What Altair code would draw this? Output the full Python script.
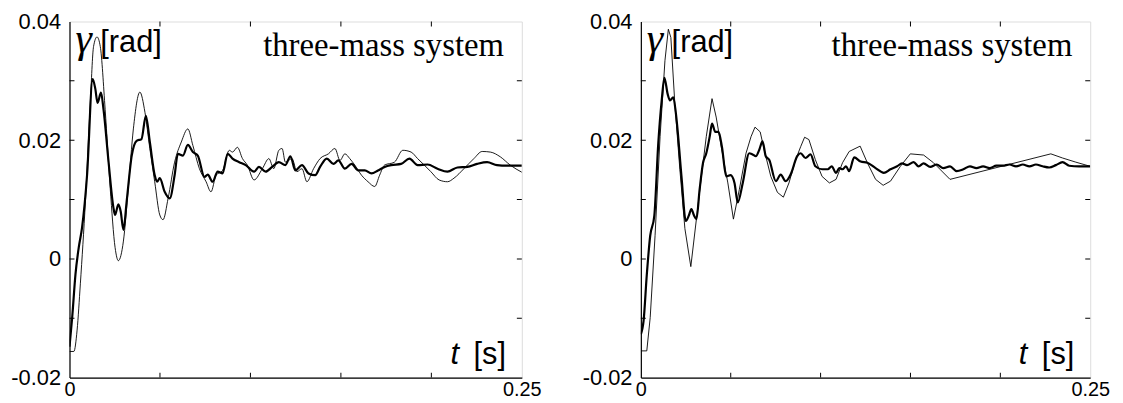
import altair as alt
import pandas as pd

# ---------------- data ----------------
left_thin_t = [0, 0.0024, 0.0042, 0.006, 0.0088, 0.0115, 0.0133, 0.0152, 0.017, 0.0197,
               0.0225, 0.0252, 0.027, 0.0298, 0.0325, 0.0353, 0.0389, 0.0417, 0.0444, 0.0471,
               0.0499, 0.0517, 0.0545, 0.0581, 0.0618, 0.0654, 0.0682, 0.0718, 0.0755, 0.0782,
               0.081, 0.0846, 0.0883, 0.0901, 0.0928, 0.0956, 0.0983, 0.102,
               0.1066, 0.1102, 0.1129, 0.1157, 0.1175, 0.1193, 0.123, 0.1257, 0.1285, 0.1312,
               0.1349, 0.1385, 0.1431, 0.1467, 0.1495, 0.1522, 0.1549, 0.1577, 0.1614, 0.165,
               0.1687, 0.1714, 0.1741, 0.1796, 0.1842, 0.1888, 0.1924, 0.1961, 0.1997, 0.2043,
               0.2089, 0.2125, 0.218, 0.2235, 0.2281, 0.2326, 0.2381, 0.2436, 0.25]
left_thin_v = [-0.0156, -0.0156, -0.012, -0.0042, 0.0097, 0.0263, 0.0358, 0.0374, 0.0358, 0.0252,
               0.0119, 0.0019, -0.0003, 0.003, 0.0119, 0.0219, 0.0281, 0.0247, 0.0186, 0.013,
               0.0074, 0.0066, 0.0102, 0.0163, 0.0197, 0.0219, 0.0191, 0.0152, 0.013, 0.0113,
               0.0141, 0.0149, 0.0183, 0.018, 0.0188, 0.0169, 0.0158, 0.0133,
               0.0152, 0.0169, 0.0152, 0.0183, 0.0186, 0.0163, 0.0169, 0.0147, 0.0152, 0.013,
               0.0152, 0.0169, 0.0177, 0.0186, 0.0166, 0.0177, 0.0169, 0.0158, 0.0141, 0.013,
               0.0122, 0.0141, 0.0158, 0.0163, 0.0183, 0.018, 0.0169, 0.0158, 0.0147, 0.0133,
               0.013, 0.0136, 0.0152, 0.0169, 0.0181, 0.018, 0.0172, 0.0158, 0.0146]

left_thick_t = [0, 0.0015, 0.0033, 0.0051, 0.0069, 0.0097, 0.0128, 0.0143, 0.0155, 0.0174,
                0.0188, 0.0216, 0.0243, 0.0252, 0.027, 0.0283, 0.0298, 0.0316, 0.0344, 0.0371,
                0.0398, 0.0422, 0.0444, 0.0471, 0.0484, 0.0499, 0.0526, 0.0554, 0.0581, 0.0599,
                0.0627, 0.0654, 0.0682, 0.0709, 0.0746, 0.0764, 0.0791, 0.0819, 0.0846, 0.0874,
                0.0901, 0.0938, 0.0974, 0.102,
                0.1047, 0.1084, 0.112, 0.1157, 0.1193, 0.1221, 0.1248, 0.1285, 0.1321, 0.1358,
                0.1385, 0.1422, 0.1459, 0.1486, 0.1522, 0.1559, 0.1596, 0.1632, 0.1669, 0.1705,
                0.1742, 0.1778, 0.1833, 0.1879, 0.1924, 0.1979, 0.2034, 0.2089, 0.2144, 0.2199,
                0.2253, 0.2308, 0.2363, 0.2418, 0.25]
left_thick_v = [-0.0148, -0.0098, -0.0026, 0.0019, 0.0052, 0.0141, 0.0303, 0.0286, 0.0263, 0.028,
                0.0252, 0.0163, 0.0086, 0.0074, 0.0092, 0.008, 0.0049, 0.0097, 0.0174, 0.0199,
                0.0202, 0.0241, 0.0197, 0.0141, 0.013, 0.0136, 0.0113, 0.0102, 0.0141, 0.0177,
                0.0174, 0.0192, 0.018, 0.0174, 0.0138, 0.0142, 0.013, 0.0147, 0.0144, 0.0177,
                0.0169, 0.0163, 0.0158, 0.0147,
                0.0155, 0.0147, 0.0155, 0.0163, 0.0158, 0.0173, 0.0149, 0.0158, 0.0144, 0.0141,
                0.0155, 0.0169, 0.016, 0.0166, 0.0152, 0.016, 0.0149, 0.0149, 0.0144, 0.0149,
                0.0155, 0.0158, 0.016, 0.0169, 0.0158, 0.0159, 0.0152, 0.0147, 0.0154, 0.0155,
                0.016, 0.0163, 0.0158, 0.0157, 0.0157]

right_thin_t = [0, 0.0033, 0.0052, 0.0079, 0.0107, 0.0134, 0.0153, 0.0167, 0.0189, 0.0217,
                0.0245, 0.0278, 0.0309, 0.0337, 0.0364, 0.0396, 0.0419, 0.0447, 0.0484, 0.0515,
                0.0548, 0.0585, 0.0613, 0.0635, 0.0664, 0.0686, 0.0723, 0.076, 0.0793, 0.0824,
                0.0861, 0.0889, 0.0911, 0.0935, 0.0971, 0.1008,
                0.1049, 0.1086, 0.1122, 0.1159, 0.122, 0.126, 0.1306, 0.1348, 0.1389, 0.1444,
                0.1499, 0.1573, 0.1628, 0.1674, 0.172, 0.2281, 0.2346, 0.242, 0.25]
right_thin_v = [-0.0155, -0.0155, -0.0099, 0.0039, 0.0206, 0.0334, 0.0387, 0.0373, 0.0262, 0.0151,
                0.0051, -0.0013, 0.0067, 0.0139, 0.0206, 0.027, 0.0239, 0.0189, 0.0128, 0.0067,
                0.0117, 0.0178, 0.0206, 0.0222, 0.0214, 0.0184, 0.0139, 0.0112, 0.0104, 0.0128,
                0.0167, 0.0189, 0.0205, 0.0201, 0.0167, 0.0139,
                0.0128, 0.0134, 0.0162, 0.0181, 0.019, 0.0162, 0.0134, 0.0124, 0.0131, 0.0156,
                0.0177, 0.0175, 0.0162, 0.0148, 0.0134, 0.0177, 0.017, 0.0163, 0.0156]

right_thick_t = [0, 0.0015, 0.0033, 0.0052, 0.0075, 0.0097, 0.0116, 0.0131, 0.0149, 0.0162,
                 0.018, 0.0199, 0.0226, 0.025, 0.0267, 0.0281, 0.0296, 0.0309, 0.0327, 0.0346,
                 0.0364, 0.0383, 0.0396, 0.0414, 0.0432, 0.0451, 0.0475, 0.0499, 0.0521, 0.0539,
                 0.0567, 0.0603, 0.0621, 0.064, 0.0659, 0.0677, 0.0695, 0.0714, 0.0751, 0.0778,
                 0.0806, 0.0833, 0.087, 0.0889, 0.0916, 0.0944, 0.0971, 0.1008,
                 0.104, 0.1062, 0.1086, 0.1104, 0.1122, 0.1141, 0.1159, 0.1187, 0.1223, 0.126,
                 0.1306, 0.1352, 0.1389, 0.1426, 0.1453, 0.1481, 0.1518, 0.1545, 0.1573, 0.161,
                 0.1646, 0.1683, 0.172, 0.1757, 0.1794, 0.1831, 0.1867, 0.1904, 0.1941, 0.1978,
                 0.2014, 0.2051, 0.2088, 0.2125, 0.2162, 0.2198, 0.2235, 0.2272, 0.2309, 0.2346,
                 0.2383, 0.2438, 0.25]
right_thick_v = [-0.0127, -0.0105, -0.0027, 0.0039, 0.0073, 0.0195, 0.0267, 0.0305, 0.0278, 0.0267,
                 0.0272, 0.0234, 0.0139, 0.0064, 0.0073, 0.0084, 0.0073, 0.0067, 0.0117, 0.0162,
                 0.0178, 0.0206, 0.0228, 0.0214, 0.0214, 0.0189, 0.0139, 0.0141, 0.0128, 0.0095,
                 0.0128, 0.0178, 0.0176, 0.0173, 0.0184, 0.0198, 0.0173, 0.0167, 0.0131, 0.0142,
                 0.0131, 0.0142, 0.0173, 0.0178, 0.017, 0.0176, 0.0156, 0.0151,
                 0.0151, 0.0156, 0.0145, 0.0153, 0.0151, 0.0156, 0.0148, 0.0171, 0.0164, 0.0162,
                 0.0153, 0.0145, 0.0151, 0.0156, 0.0161, 0.0158, 0.0163, 0.0156, 0.0161, 0.0155,
                 0.0159, 0.0153, 0.0156, 0.0148, 0.0151, 0.0156, 0.0153, 0.0156, 0.0153, 0.0157,
                 0.0157, 0.0159, 0.0156, 0.0159, 0.0156, 0.0159, 0.0156, 0.0154, 0.0158, 0.0163,
                 0.0157, 0.0156, 0.0156]

for a, b in [(left_thin_t, left_thin_v), (left_thick_t, left_thick_v),
             (right_thin_t, right_thin_v), (right_thick_t, right_thick_v)]:
    assert len(a) == len(b), (len(a), len(b))

# axes / labels
T_DOMAIN = [0.0, 0.25]
V_DOMAIN = [-0.02, 0.04]
x_label_values = [0, 0.25]
x_label_texts = ["0", "0.25"]
y_label_values = [-0.02, 0, 0.02, 0.04]
y_label_texts = ["-0.02", "0", "0.02", "0.04"]
x_minor_ticks = [0.05, 0.10, 0.15, 0.20]
y_minor_ticks = [-0.01, 0, 0.01, 0.02, 0.03]

title_text = ["three-mass system"]
ylab_symbol = ["γ"]
ylab_unit = ["[rad]"]
xlab_symbol = ["t"]
xlab_unit = ["[s]"]

SANS = "Liberation Sans"
SERIF = "Liberation Serif"


def label_expr(vals, texts):
    expr = "''"
    for v, s in reversed(list(zip(vals, texts))):
        expr = f"(abs(datum.value - ({v})) < 1e-9 ? '{s}' : {expr})"
    return expr


def panel(thin_t, thin_v, thick_t, thick_v, w, h, thin_interp, thick_interp):
    xs = alt.Scale(domain=T_DOMAIN, nice=False, zero=False)
    ys = alt.Scale(domain=V_DOMAIN, nice=False, zero=False)
    xaxis = alt.Axis(values=x_label_values, labelExpr=label_expr(x_label_values, x_label_texts),
                     ticks=False, grid=False, title=None, labelFlush=False, labelPadding=2,
                     labelFont=SANS, labelFontSize=20, labelColor="black",
                     domainColor="black", domainWidth=1.2)
    yaxis = alt.Axis(values=y_label_values, labelExpr=label_expr(y_label_values, y_label_texts),
                     ticks=False, grid=False, title=None, labelPadding=9,
                     labelFont=SANS, labelFontSize=22, labelColor="black",
                     domainColor="black", domainWidth=1.2)

    thin = alt.Chart(pd.DataFrame({"t": thin_t, "v": thin_v})).mark_line(
        color="black", strokeWidth=0.9, clip=True, interpolate=thin_interp
    ).encode(x=alt.X("t:Q", scale=xs, axis=xaxis), y=alt.Y("v:Q", scale=ys, axis=yaxis))

    thick = alt.Chart(pd.DataFrame({"t": thick_t, "v": thick_v})).mark_line(
        color="black", strokeWidth=2.2, clip=True, interpolate=thick_interp
    ).encode(x=alt.X("t:Q", scale=xs), y=alt.Y("v:Q", scale=ys))

    xt = pd.DataFrame({"t": x_minor_ticks})
    yt = pd.DataFrame({"v": y_minor_ticks})
    tick_bottom = alt.Chart(xt).mark_tick(orient="vertical", size=10, thickness=1,
                                          color="black", opacity=1, clip=True).encode(
        x=alt.X("t:Q", scale=xs), y=alt.datum(V_DOMAIN[0]))
    tick_top = alt.Chart(xt).mark_tick(orient="vertical", size=10, thickness=1,
                                       color="black", opacity=1, clip=True).encode(
        x=alt.X("t:Q", scale=xs), y=alt.datum(V_DOMAIN[1]))
    tick_left = alt.Chart(yt).mark_tick(orient="horizontal", size=10, thickness=1,
                                        color="black", opacity=1, clip=True).encode(
        y=alt.Y("v:Q", scale=ys), x=alt.datum(T_DOMAIN[0]))
    tick_right = alt.Chart(yt).mark_tick(orient="horizontal", size=10, thickness=1,
                                         color="black", opacity=1, clip=True).encode(
        y=alt.Y("v:Q", scale=ys), x=alt.datum(T_DOMAIN[1]))

    title = alt.Chart(pd.DataFrame({"s": title_text})).mark_text(
        font=SERIF, fontSize=33, align="right", baseline="alphabetic", color="black"
    ).encode(text="s:N", x=alt.value(w - 18), y=alt.value(35))

    g = alt.Chart(pd.DataFrame({"s": ylab_symbol})).mark_text(
        font=SERIF, fontSize=42, fontStyle="italic", align="left", baseline="alphabetic", color="black"
    ).encode(text="s:N", x=alt.value(6), y=alt.value(31))
    rad = alt.Chart(pd.DataFrame({"s": ylab_unit})).mark_text(
        font=SANS, fontSize=31, align="left", baseline="alphabetic", color="black"
    ).encode(text="s:N", x=alt.value(31), y=alt.value(31))

    tsym = alt.Chart(pd.DataFrame({"s": xlab_symbol})).mark_text(
        font=SANS, fontSize=31, fontStyle="italic", align="left", baseline="alphabetic", color="black"
    ).encode(text="s:N", x=alt.value(w - 72), y=alt.value(h - 14))
    sunit = alt.Chart(pd.DataFrame({"s": xlab_unit})).mark_text(
        font=SANS, fontSize=31, align="right", baseline="alphabetic", color="black"
    ).encode(text="s:N", x=alt.value(w - 16), y=alt.value(h - 14))

    return alt.layer(thin, thick, tick_bottom, tick_top, tick_left, tick_right,
                     title, g, rad, tsym, sunit).properties(width=w, height=h)


left = panel(left_thin_t, left_thin_v, left_thick_t, left_thick_v, 456, 359,
             "monotone", "monotone")
right = panel(right_thin_t, right_thin_v, right_thick_t, right_thick_v, 453, 359,
              "linear", "monotone")

chart = alt.hconcat(left, right, spacing=120, bounds="flush").properties(
    padding={"left": 2, "top": 0, "right": 5, "bottom": 0},
).configure_view(stroke="black", strokeWidth=1.2).configure(background="white")

chart.save("out.html", embed_options={"renderer": "svg", "actions": False})
